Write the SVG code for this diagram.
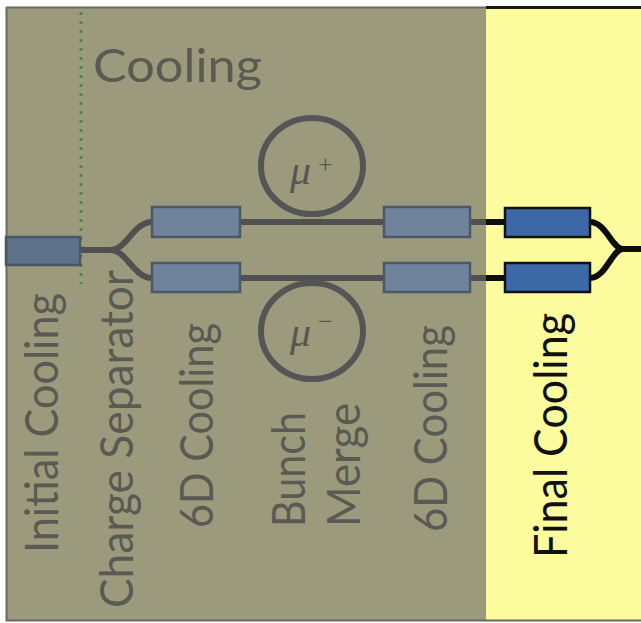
<svg xmlns="http://www.w3.org/2000/svg" width="641" height="623" viewBox="0 0 641 623">
  <style>
    .lbl { font-family: Lato, "Liberation Sans", sans-serif; font-size: 46px; fill: #5a5a52; }
    .lblk { font-family: Lato, "Liberation Sans", sans-serif; font-size: 46px; fill: #111111; }
    .mu { font-family: "Liberation Serif", serif; font-style: italic; font-size: 42px; fill: #57574f; }
    .sup { font-family: "Liberation Serif", serif; font-size: 26px; fill: #57574f; }
    .box { fill: #6f839c; stroke: #4d5866; stroke-width: 2.5; }
    .fbox { fill: #3c69a5; stroke: #111111; stroke-width: 2.5; }
    .rail { fill: none; stroke: #505050; stroke-width: 6; }
    .railk { fill: none; stroke: #0d0d0d; stroke-width: 6; }
    .ring { fill: none; stroke: #555555; stroke-width: 6; }
  </style>
  <rect x="0" y="0" width="641" height="623" fill="#ffffff"/>
  <g id="background">
    <rect x="6" y="7" width="480" height="614" fill="#9b9a7d"/>
    <rect x="486" y="7" width="155" height="614" fill="#fcfb9d"/>
    <line x1="6" y1="7.5" x2="486" y2="7.5" stroke="#6a6a60" stroke-width="2"/>
    <line x1="486" y1="7.5" x2="641" y2="7.5" stroke="#1a1a10" stroke-width="3"/>
    <line x1="6.5" y1="7" x2="6.5" y2="621" stroke="#6a6a60" stroke-width="2"/>
    <line x1="6" y1="620.5" x2="641" y2="620.5" stroke="#6a6a60" stroke-width="2"/>
    <line x1="81" y1="12" x2="81" y2="284" stroke="#4f8a3c" stroke-width="3" stroke-dasharray="3 6"/>
  </g>
  <g id="title">
    <text class="lbl" x="93" y="82" font-size="55" textLength="169" lengthAdjust="spacingAndGlyphs">Cooling</text>
  </g>
  <g id="connectors">
    <path class="rail" d="M80,250 H111 C126,250 134,222 152,222"/>
    <path class="rail" d="M111,250 C126,250 134,278 152,278"/>
    <path class="rail" d="M240,222 H384"/>
    <path class="rail" d="M240,278 H384"/>
    <path class="rail" d="M470,222 H487"/>
    <path class="rail" d="M470,278 H487"/>
    <path class="railk" d="M486,222 H505"/>
    <path class="railk" d="M486,278 H505"/>
    <path class="railk" d="M590,222 C606,222 612,249 623,249 H641"/>
    <path class="railk" d="M590,278 C606,278 612,249 623,249"/>
  </g>
  <g id="initial-cooling">
    <rect x="6" y="237" width="74" height="28" fill="#5e728a" stroke="#4a5666" stroke-width="2.5"/>
    <text class="lbl" transform="translate(58,553) rotate(-90)" textLength="260" lengthAdjust="spacingAndGlyphs">Initial Cooling</text>
  </g>
  <g id="charge-separator">
    <text class="lbl" transform="translate(133,608) rotate(-90)" textLength="338" lengthAdjust="spacingAndGlyphs">Charge Separator</text>
  </g>
  <g id="cooling-6d-1">
    <rect class="box" x="152" y="207" width="88" height="30"/>
    <rect class="box" x="152" y="263" width="88" height="29"/>
    <text class="lbl" transform="translate(213,528) rotate(-90)" textLength="205" lengthAdjust="spacingAndGlyphs">6D Cooling</text>
  </g>
  <g id="bunch-merge">
    <ellipse class="ring" cx="312" cy="166" rx="51" ry="48"/>
    <ellipse class="ring" cx="312" cy="331" rx="51" ry="48"/>
    <text class="mu" x="290" y="184">μ</text>
    <text class="sup" x="318" y="173">+</text>
    <text class="mu" x="290" y="346">μ</text>
    <text class="sup" x="318" y="330">−</text>
    <text class="lbl" transform="translate(305,527) rotate(-90)" textLength="115" lengthAdjust="spacingAndGlyphs">Bunch</text>
    <text class="lbl" transform="translate(360,527) rotate(-90)" textLength="124" lengthAdjust="spacingAndGlyphs">Merge</text>
  </g>
  <g id="cooling-6d-2">
    <rect class="box" x="384" y="207" width="86" height="30"/>
    <rect class="box" x="384" y="263" width="86" height="29"/>
    <text class="lbl" transform="translate(447,532) rotate(-90)" textLength="207" lengthAdjust="spacingAndGlyphs">6D Cooling</text>
  </g>
  <g id="final-cooling">
    <rect class="fbox" x="505" y="208" width="85" height="29"/>
    <rect class="fbox" x="505" y="263" width="85" height="29"/>
    <text class="lblk" transform="translate(567,558) rotate(-90)" textLength="245" lengthAdjust="spacingAndGlyphs">Final Cooling</text>
  </g>
</svg>
